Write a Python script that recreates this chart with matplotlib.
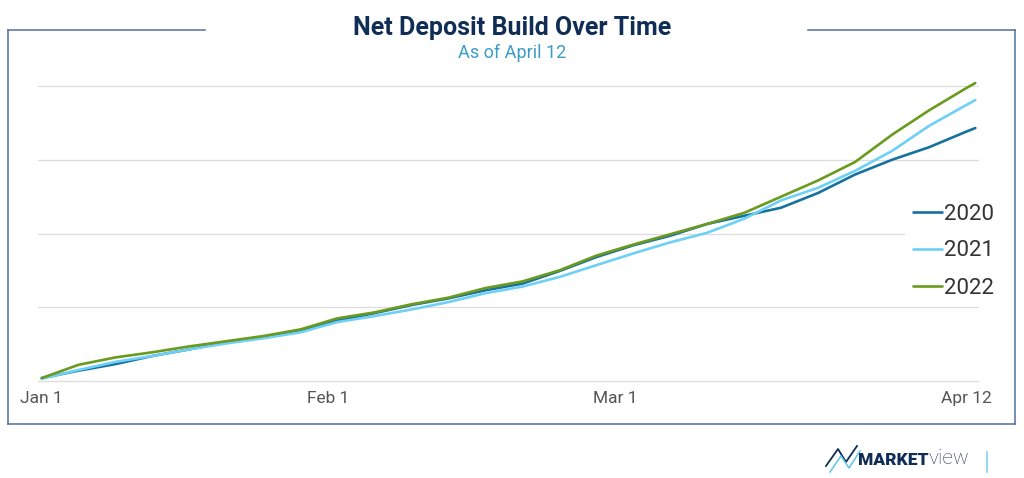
import numpy as np
import matplotlib
matplotlib.use('Agg')
import matplotlib.pyplot as plt
from matplotlib.lines import Line2D

#%% data (index units, gridline = 100)
days = [0, 4, 8, 12, 16, 20, 24, 28, 32, 36, 40, 44, 48, 52, 56, 60, 64, 68,
        72, 76, 80, 84, 88, 92, 96, 100, 101]
dep_2020 = [4, 14, 23, 34, 43, 53, 59, 69, 82, 92, 103, 112, 123, 132, 149, 168, 184, 197,
            213, 224, 235, 255, 280, 300, 317, 338, 343]
dep_2021 = [3, 15, 26, 34, 43, 51, 58, 66, 80, 88, 97, 107, 119, 128, 141, 157, 173, 188,
            201, 220, 245, 262, 285, 312, 346, 374, 381]
dep_2022 = [4, 22, 32, 39, 47, 54, 61, 70, 85, 93, 104, 113, 126, 135, 150, 170, 185, 199,
            213, 228, 250, 272, 297, 334, 367, 397, 404]
series_names = ['2020', '2021', '2022']
tick_labels = ['Jan 1', 'Feb 1', 'Mar 1', 'Apr 12']
tick_pos = [0, 31, 62, 100]
grid_vals = [0, 100, 200, 300, 400]

#%% style
colors = ['#17719f', '#6fd0f6', '#6a9a1e']
navy = '#0f2d55'
plt.rcParams['font.family'] = ['Roboto', 'DejaVu Sans']

W, H = 1024, 478
fig = plt.figure(figsize=(W / 100, H / 100), dpi=100)

def fx(px):
    return px / W

def fy(py):
    return 1 - py / H

# outer frame with a gap for the title
frame_col = '#4f6ea0'
segs = [((8, 30), (8, 424)), ((8, 424), (1015, 424)), ((1015, 424), (1015, 30)),
        ((8, 30), (205, 30)), ((808, 30), (1015, 30))]
for (x0, y0), (x1, y1) in segs:
    fig.add_artist(Line2D([fx(x0), fx(x1)], [fy(y0), fy(y1)], color=frame_col, lw=1.1))

fig.text(0.5, fy(28), 'Net Deposit Build Over Time', ha='center', va='center',
         fontsize=18, fontweight='bold', color=navy)
fig.text(0.5, fy(53), 'As of April 12', ha='center', va='center',
         fontsize=13, color='#3a9cc8')

#%% chart
ax = fig.add_axes([fx(38), fy(390), fx(979) - fx(38), fy(70) - fy(390)])
for vals, name, c in zip([dep_2020, dep_2021, dep_2022], series_names, colors):
    ax.plot(days, vals, color=c, lw=1.9, label=name, zorder=3, solid_capstyle='round')

ax.set_xlim(-0.4, 101.4)
ax.set_ylim(-12.2, 421.7)
ax.set_yticks(grid_vals)
ax.set_yticklabels([])
ax.yaxis.grid(True, color='#dcdcdc', lw=0.9)
ax.set_axisbelow(True)
ax.set_xticks(tick_pos)
ax.set_xticklabels(tick_labels, fontsize=12.5, color='#555555')
ax.tick_params(length=0, pad=1)
for s in ax.spines.values():
    s.set_visible(False)

leg = ax.legend(loc='center left', bbox_to_anchor=(fx(905), fy(251)),
                bbox_transform=fig.transFigure, fontsize=16, frameon=True,
                handlelength=1.3, handletextpad=0.1, labelspacing=0.72,
                borderpad=0.35, borderaxespad=0)
leg.get_frame().set_facecolor('white')
leg.get_frame().set_edgecolor('none')
leg.get_frame().set_alpha(1)
for t in leg.get_texts():
    t.set_color('#333333')

#%% logo
fig.add_artist(Line2D([fx(p) for p in (826, 838, 846, 857)], [fy(p) for p in (466, 449, 462, 446)],
                      color=navy, lw=1.3))
fig.add_artist(Line2D([fx(p) for p in (830, 841, 849, 860)], [fy(p) for p in (472, 456, 468, 451)],
                      color='#5cc4ef', lw=1.1))
fig.text(fx(929), fy(460), 'MARKET', ha='right', va='center', fontsize=12.5,
         fontweight='heavy', color=navy)
fig.text(fx(929), fy(459), 'view', ha='left', va='center', fontsize=15,
         fontweight='light', color='#2b3f5c')
fig.add_artist(Line2D([fx(987), fx(987)], [fy(452), fy(472)], color='#7fd3f5', lw=1.2))

fig.savefig('out.png', dpi=100)
